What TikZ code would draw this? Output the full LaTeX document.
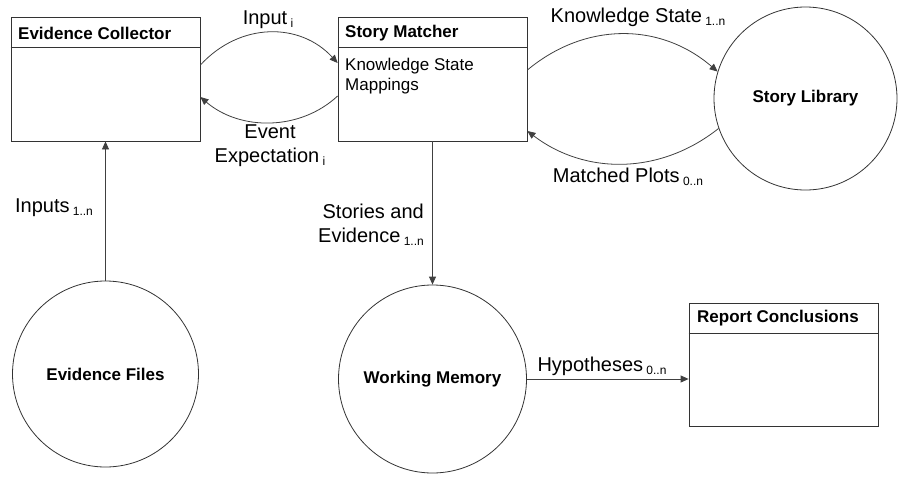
\documentclass[tikz,border=0pt]{standalone}
\usepackage{fontspec}
\setmainfont{Liberation Sans}
\usetikzlibrary{arrows.meta}
\newcommand{\sbs}[1]{\,\raisebox{-3pt}{\fontsize{12}{12}\selectfont #1}}
\begin{document}
\begin{tikzpicture}[x=1pt,y=-1pt,
  box/.style={draw=black!80,line width=0.8pt,minimum width=189pt,minimum height=124pt,inner sep=0pt},
  circ/.style={draw=black!80,line width=0.8pt,circle,inner sep=0pt,font=\fontsize{17}{20}\selectfont\bfseries},
  title/.style={anchor=west,inner sep=0pt,font=\fontsize{17}{20}\selectfont\bfseries},
  content/.style={anchor=north west,inner sep=0pt,align=left,font=\fontsize{17}{20}\selectfont},
  lab/.style={inner sep=0pt,font=\fontsize{20}{24}\selectfont},
  arr/.style={draw=black!75,line width=0.8pt,-{Triangle[length=8pt,width=7pt]}}]
\useasboundingbox (0,0) rectangle (898,477);
% boxes
\node[box] (ec) at (105.5,79) {};
\draw[draw=black!80,line width=0.8pt] ([yshift=-31pt]ec.north west) -- ([yshift=-31pt]ec.north east);
\node[title] (ect) at (18,33) {Evidence Collector};
\node[box] (sm) at (432.5,79) {};
\draw[draw=black!80,line width=0.8pt] ([yshift=-31pt]sm.north west) -- ([yshift=-31pt]sm.north east);
\node[title] (smt) at (345,33) {Story Matcher};
\node[content] (smc) at (345,58) {Knowledge State\\Mappings};
\node[box,minimum height=123pt] (rc) at (783.5,364.5) {};
\draw[draw=black!80,line width=0.8pt] ([yshift=-31pt]rc.north west) -- ([yshift=-31pt]rc.north east);
\node[title] (rct) at (697,318) {Report Conclusions};
% circles
\node[circ,minimum size=183pt] (sl) at (805.5,98.5) {Story Library};
\node[circ,minimum size=186pt] (ef) at (105.5,374) {Evidence Files};
\node[circ,minimum size=188pt] (wm) at (432.5,379) {Working Memory};
% connectors
\draw[arr] (ef.north) -- (ec.south);
\draw[arr] (sm.south) -- (wm.north);
\draw[arr] (wm.east) -- (rc.west |- wm.east);
\draw[arr] ([yshift=14pt]ec.east) .. controls (240,22) and (300,22) .. ([yshift=16pt]sm.west);
\draw[arr] ([yshift=-17pt]sm.west) .. controls (300,131) and (240,131) .. ([yshift=-18pt]ec.east);
\draw[arr] ([yshift=9pt]sm.east) .. controls (585,22) and (660,22) .. (sl.163);
\draw[arr] (sl.199) .. controls (660,175) and (585,175) .. ([yshift=-52pt]sm.east);
% labels
\node[lab] (l1) at (268,20) {Input\sbs{i}};
\node[lab,align=center] (l2) at (270,146) {Event\\Expectation\sbs{i}};
\node[lab] (l3) at (638,17) {Knowledge State\sbs{1..n}};
\node[lab] (l4) at (628,177) {Matched Plots\sbs{0..n}};
\node[lab] (l5) at (54,208) {Inputs\sbs{1..n}};
\node[lab,align=right,anchor=east] (l6) at (424,225) {Stories and\\Evidence\sbs{1..n}};
\node[lab] (l7) at (602,366) {Hypotheses\sbs{0..n}};
\end{tikzpicture}
\end{document}
